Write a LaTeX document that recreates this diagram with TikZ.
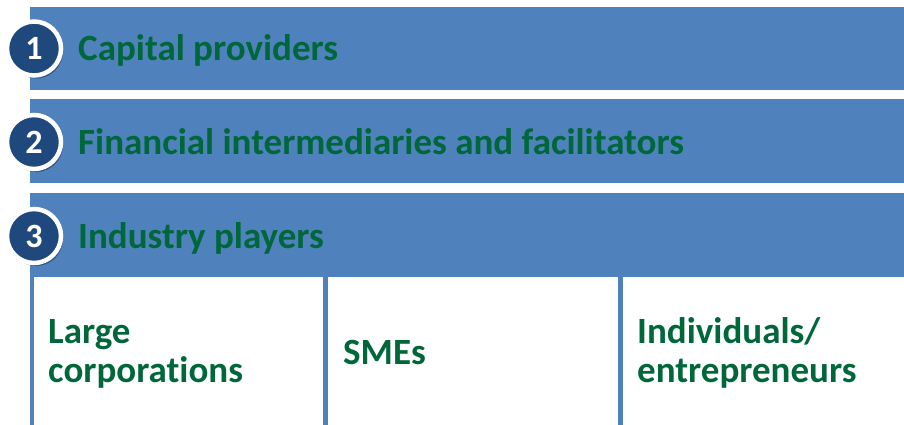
\documentclass[tikz,border=0pt]{standalone}
\usepackage{fontspec}
\setmainfont[Ligatures=NoCommon]{Carlito}
\usetikzlibrary{shadows}
\definecolor{barblue}{HTML}{4F81BD}
\definecolor{numblue}{HTML}{1F497D}
\definecolor{txtgreen}{HTML}{00673A}
\tikzset{
  bar/.style={fill=barblue, draw=none},
  numcirc/.style={circle, fill=numblue, draw=white, line width=4.5pt, minimum size=54pt, inner sep=0pt,
    text=white, font=\fontsize{34}{36}\selectfont\bfseries,
    drop shadow={shadow xshift=2pt, shadow yshift=-3pt, opacity=0.35, fill=black}},
  bartext/.style={anchor=base west, text=txtgreen, font=\fontsize{37}{40}\selectfont\bfseries, inner sep=0pt},
  celltext/.style={anchor=base west, text=txtgreen, font=\fontsize{37}{39}\selectfont\bfseries, inner sep=0pt, align=left},
  vline/.style={draw=barblue, line width=4.5pt}
}
\begin{document}
\begin{tikzpicture}[x=1pt,y=1pt]
\useasboundingbox (0,0) rectangle (904,-425);
\fill[white] (0,0) rectangle (904,-425);
% bars
\path[bar] (30,-7) rectangle (904,-90);
\path[bar] (30,-99) rectangle (904,-183);
\path[bar] (30,-193) rectangle (904,-277);
% vertical lines
\coordinate (l1t) at (32,-277); \coordinate (l1b) at (32,-425);
\coordinate (l2t) at (325.5,-277); \coordinate (l2b) at (325.5,-425);
\coordinate (l3t) at (620.5,-277); \coordinate (l3b) at (620.5,-425);
\draw[vline] (l1t) -- (l1b);
\draw[vline] (l2t) -- (l2b);
\draw[vline] (l3t) -- (l3b);
% circles
\node[numcirc] (n1) at (34,-48.5) {1};
\node[numcirc] (n2) at (34,-142) {2};
\node[numcirc] (n3) at (34,-236) {3};
% bar texts
\node[bartext] (t1) at (78,-61) {Capital providers};
\node[bartext] (t2) at (78,-154) {Financial intermediaries and facilitators};
\node[bartext] (t3) at (78,-248) {Industry players};
% cells
\node[celltext] (c1) at (48,-382) {Large\\corporations};
\node[celltext] (c2) at (343,-364) {SMEs};
\node[celltext] (c3) at (637,-382) {Individuals/\\entrepreneurs};
\end{tikzpicture}
\end{document}
